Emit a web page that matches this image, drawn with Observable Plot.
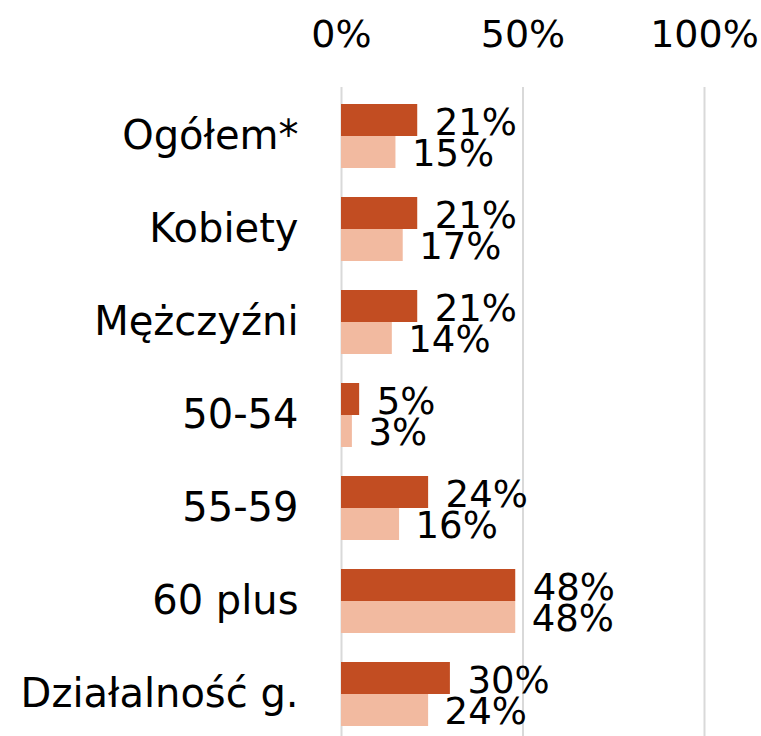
<!DOCTYPE html>
<html>
<head>
<meta charset="utf-8">
<script src="https://cdn.jsdelivr.net/npm/d3@7"></script>
<script src="https://cdn.jsdelivr.net/npm/@observablehq/plot@0.6"></script>
<style>
  html, body { margin: 0; padding: 0; background: #fff; }
  #chart svg { display: block; }
</style>
</head>
<body>
<div id="chart"></div>
<script>
const categories = ["Ogółem*", "Kobiety", "Mężczyźni", "50-54", "55-59", "60 plus", "Działalność g."];
const seriesA = [21, 21, 21, 5, 24, 48, 30];   // dark bars
const seriesB = [15, 17, 14, 3, 16, 48, 24];   // light bars
const xTicks = [0, 50, 100];

const colorA = "#C24D22";
const colorB = "#F2BAA0";
const font = "DejaVu Sans";

const dataA = categories.map((c, i) => ({category: c, value: seriesA[i]}));
const dataB = categories.map((c, i) => ({category: c, value: seriesB[i]}));

const chart = Plot.plot({
  width: 761,
  height: 736,
  marginLeft: 341,
  marginRight: 57,
  marginTop: 94,
  marginBottom: 0,
  style: {fontFamily: font, fontSize: "40px", color: "#000", background: "#fff"},
  x: {domain: [0, 100], ticks: xTicks, tickFormat: d => d + "%", axis: "top", tickSize: 0, tickPadding: 48, label: null, grid: false},
  y: {domain: categories, paddingInner: 0.317, paddingOuter: 0.08, tickSize: 0, tickPadding: 43, label: null},
  marks: [
    Plot.ruleX(xTicks, {x: d => d, stroke: "#d9d9d9", strokeWidth: 2, insetTop: -7}),
    Plot.barX(dataA, {x: "value", y: "category", fill: colorA, insetBottom: 32}),
    Plot.barX(dataB, {x: "value", y: "category", fill: colorB, insetTop: 32}),
    Plot.text(dataA, {x: "value", y: "category", text: d => d.value + "%", textAnchor: "start", dx: 17, dy: -13, fontSize: 37, fill: "#000"}),
    Plot.text(dataB, {x: "value", y: "category", text: d => d.value + "%", textAnchor: "start", dx: 16, dy: 18, fontSize: 37, fill: "#000"})
  ]
});
chart.querySelectorAll("g[aria-label='x-axis tick label'] text, g[aria-label='x-axis'] text").forEach(t => t.setAttribute("font-size", "38"));
document.getElementById("chart").appendChild(chart);
</script>
</body>
</html>
